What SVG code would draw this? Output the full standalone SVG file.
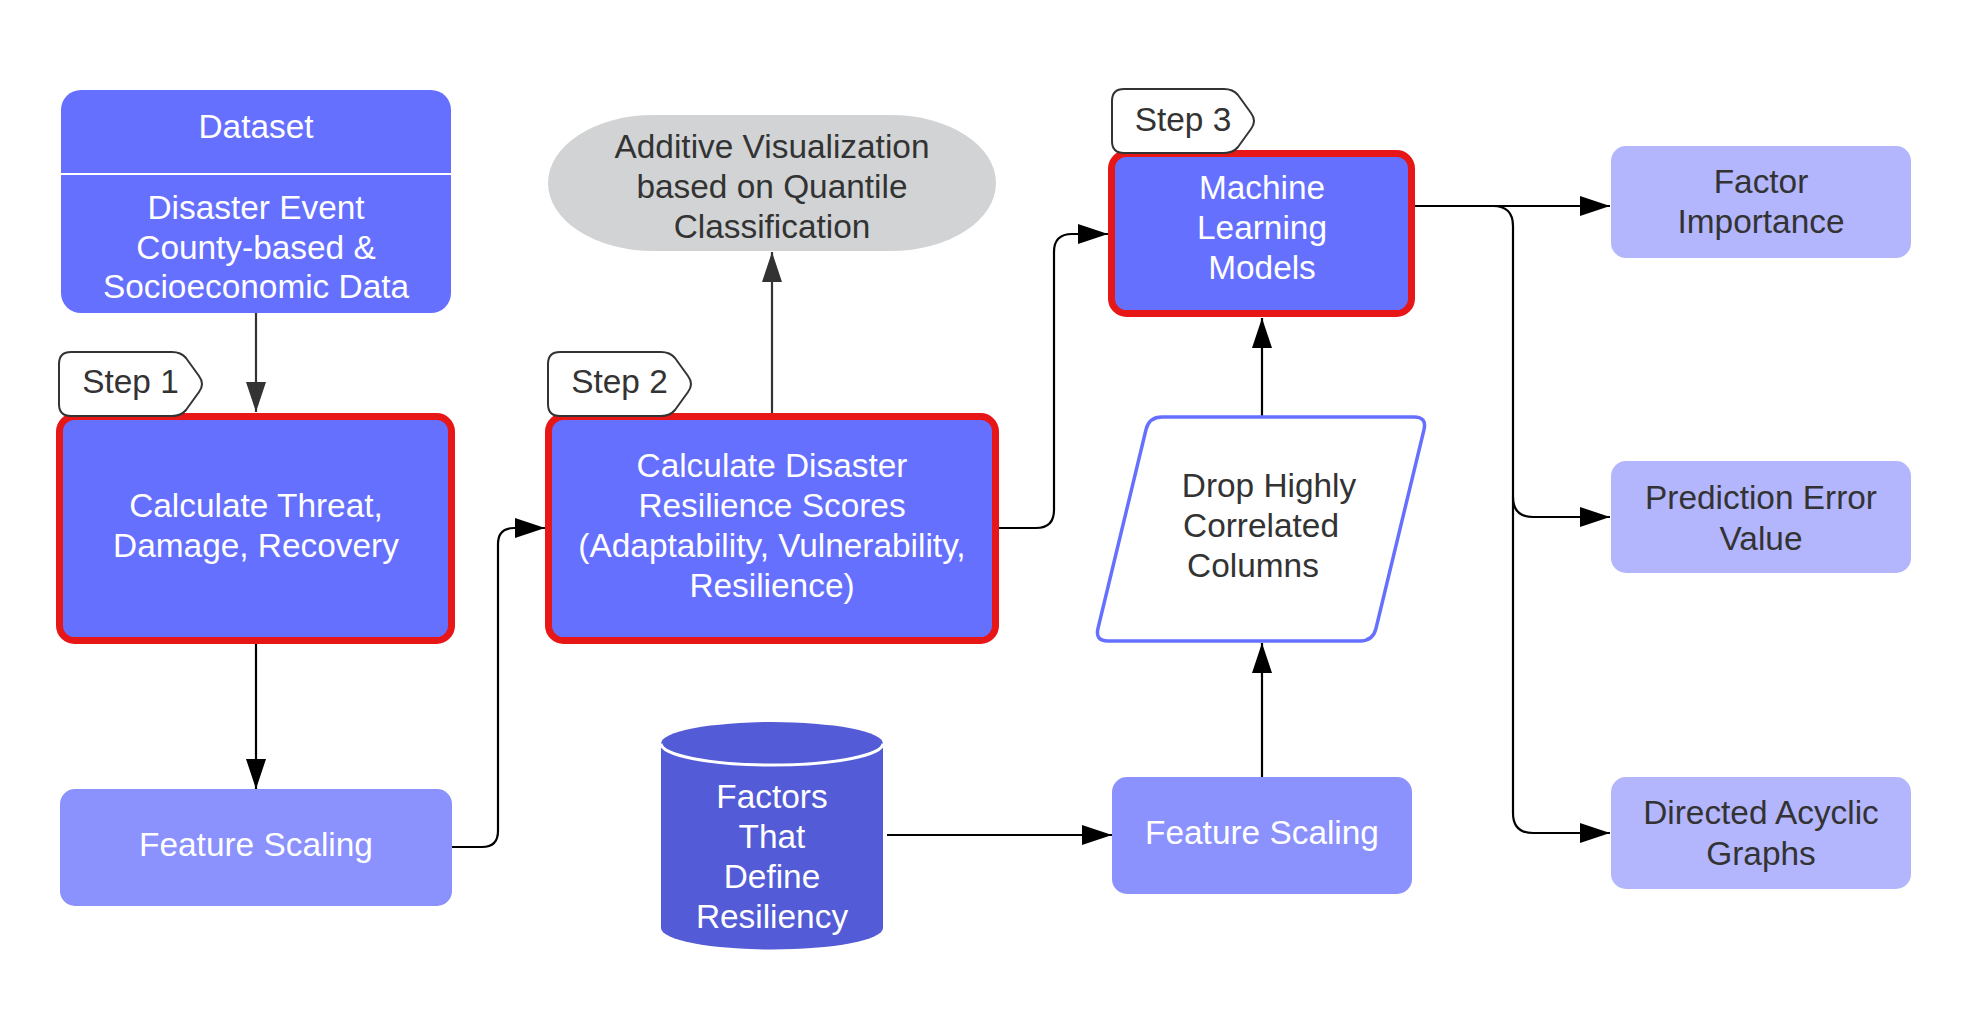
<svg xmlns="http://www.w3.org/2000/svg" width="1980" height="1018" viewBox="0 0 1980 1018">
<style>
text{font-family:"Liberation Sans",Arial,sans-serif;font-size:33.4px;text-anchor:middle}
.w{fill:#ffffff}
.d{fill:#333333}
.step{fill:#6670FF;stroke:#E81717;stroke-width:7}
.fs{fill:#8B91FD}
.out{fill:#B3B6FD}
.tag{fill:#ffffff;stroke:#333333;stroke-width:2}
.c{fill:none;stroke:#000000;stroke-width:2.2}
.cg{fill:none;stroke:#333333;stroke-width:2.2}
</style>
<defs>
<marker id="ab" markerUnits="userSpaceOnUse" markerWidth="30" markerHeight="20" refX="30" refY="10" orient="auto">
<path d="M0,0 L30,10 L0,20 Z" fill="#000000"/>
</marker>
<marker id="ag" markerUnits="userSpaceOnUse" markerWidth="30" markerHeight="20" refX="30" refY="10" orient="auto">
<path d="M0,0 L30,10 L0,20 Z" fill="#333333"/>
</marker>
</defs>
<rect width="1980" height="1018" fill="#ffffff"/>

<g id="connectors">
<path class="cg" d="M256,313 V412" marker-end="url(#ag)"/>
<path class="c" d="M256,644 V789" marker-end="url(#ab)"/>
<path class="c" d="M452,847 H482 Q498,847 498,831 V544 Q498,528 514,528 H545" marker-end="url(#ab)"/>
<path class="cg" d="M772,413 V252" marker-end="url(#ag)"/>
<path class="c" d="M999,528 H1036 Q1054,528 1054,510 V252 Q1054,234 1072,234 H1108" marker-end="url(#ab)"/>
<path class="c" d="M887,835 H1112" marker-end="url(#ab)"/>
<path class="c" d="M1262,777 V643" marker-end="url(#ab)"/>
<path class="c" d="M1262,417 V318" marker-end="url(#ab)"/>
<path class="c" d="M1415,206 H1610" marker-end="url(#ab)"/>
<path class="c" d="M1415,206 H1493 Q1513,206 1513,226 V497 Q1513,517 1533,517 H1610" marker-end="url(#ab)"/>
<path class="c" d="M1513,497 V813 Q1513,833 1533,833 H1610" marker-end="url(#ab)"/>
</g>

<g id="dataset">
<rect x="61" y="90" width="390" height="223" rx="20" fill="#6670FF"/>
<line x1="61" y1="174" x2="451" y2="174" stroke="#ffffff" stroke-width="2"/>
<text class="w" x="256" y="138">Dataset</text>
<text class="w" x="256" y="219">Disaster Event</text>
<text class="w" x="256" y="259">County-based &amp;</text>
<text class="w" x="256" y="298">Socioeconomic Data</text>
</g>

<g id="step1-box">
<rect class="step" x="59.5" y="416.5" width="392" height="224" rx="15"/>
<text class="w" x="256" y="517">Calculate Threat,</text>
<text class="w" x="256" y="557">Damage, Recovery</text>
</g>

<g id="feature-scaling-1">
<rect class="fs" x="60" y="789" width="392" height="117" rx="15"/>
<text class="w" x="256" y="856">Feature Scaling</text>
</g>

<g id="step2-box">
<rect class="step" x="548.5" y="416.5" width="447" height="224" rx="15"/>
<text class="w" x="772" y="477">Calculate Disaster</text>
<text class="w" x="772" y="517">Resilience Scores</text>
<text class="w" x="772" y="557">(Adaptability, Vulnerability,</text>
<text class="w" x="772" y="597">Resilience)</text>
</g>

<g id="additive-visualization">
<rect x="548" y="115" width="448" height="136" rx="105" ry="68" fill="#D1D3D4"/>
<text class="d" x="772" y="158">Additive Visualization</text>
<text class="d" x="772" y="198">based on Quantile</text>
<text class="d" x="772" y="238">Classification</text>
</g>

<g id="factors-cylinder">
<path d="M661,743.5 A111,21.5 0 0 1 883,743.5 V928 A111,21.5 0 0 1 661,928 Z" fill="#535BD6"/>
<path d="M661,743.5 A111,21.5 0 0 0 883,743.5" fill="none" stroke="#ffffff" stroke-width="3"/>
<text class="w" x="772" y="808">Factors</text>
<text class="w" x="772" y="848">That</text>
<text class="w" x="772" y="888">Define</text>
<text class="w" x="772" y="928">Resiliency</text>
</g>

<g id="feature-scaling-2">
<rect class="fs" x="1112" y="777" width="300" height="117" rx="15"/>
<text class="w" x="1262" y="844">Feature Scaling</text>
</g>

<g id="drop-correlated">
<path d="M1162,417 H1414 Q1427,417 1424,429.6 L1376,628.4 Q1373,641 1360,641 H1108 Q1095,641 1098,628.4 L1146,429.6 Q1149,417 1162,417 Z" fill="#ffffff" stroke="#6670FF" stroke-width="3.5"/>
<text class="d" x="1269" y="497">Drop Highly</text>
<text class="d" x="1261" y="537">Correlated</text>
<text class="d" x="1253" y="577">Columns</text>
</g>

<g id="ml-models">
<rect class="step" x="1111.5" y="153.5" width="300" height="160" rx="15"/>
<text class="w" x="1262" y="199">Machine</text>
<text class="w" x="1262" y="239">Learning</text>
<text class="w" x="1262" y="279">Models</text>
</g>

<g id="factor-importance">
<rect class="out" x="1611" y="146" width="300" height="112" rx="15"/>
<text class="d" x="1761" y="193">Factor</text>
<text class="d" x="1761" y="233">Importance</text>
</g>

<g id="prediction-error">
<rect class="out" x="1611" y="461" width="300" height="112" rx="15"/>
<text class="d" x="1761" y="509">Prediction Error</text>
<text class="d" x="1761" y="550">Value</text>
</g>

<g id="dag">
<rect class="out" x="1611" y="777" width="300" height="112" rx="15"/>
<text class="d" x="1761" y="824">Directed Acyclic</text>
<text class="d" x="1761" y="865">Graphs</text>
</g>

<g id="step1-tag">
<path class="tag" d="M71,352 H172 Q181,352 186,358 L199,376 Q205,384 199,392 L186,410 Q181,416 172,416 H71 Q59,416 59,404 V364 Q59,352 71,352 Z"/>
<text class="d" x="130.5" y="393">Step 1</text>
</g>

<g id="step2-tag">
<path class="tag" d="M560,352 H661 Q670,352 675,358 L688,376 Q694,384 688,392 L675,410 Q670,416 661,416 H560 Q548,416 548,404 V364 Q548,352 560,352 Z"/>
<text class="d" x="619.5" y="393">Step 2</text>
</g>

<g id="step3-tag">
<path class="tag" d="M1124,89 H1224 Q1233,89 1238,95 L1251,113 Q1257,121 1251,129 L1238,147 Q1233,153 1224,153 H1124 Q1112,153 1112,141 V101 Q1112,89 1124,89 Z"/>
<text class="d" x="1183" y="131">Step 3</text>
</g>
</svg>
